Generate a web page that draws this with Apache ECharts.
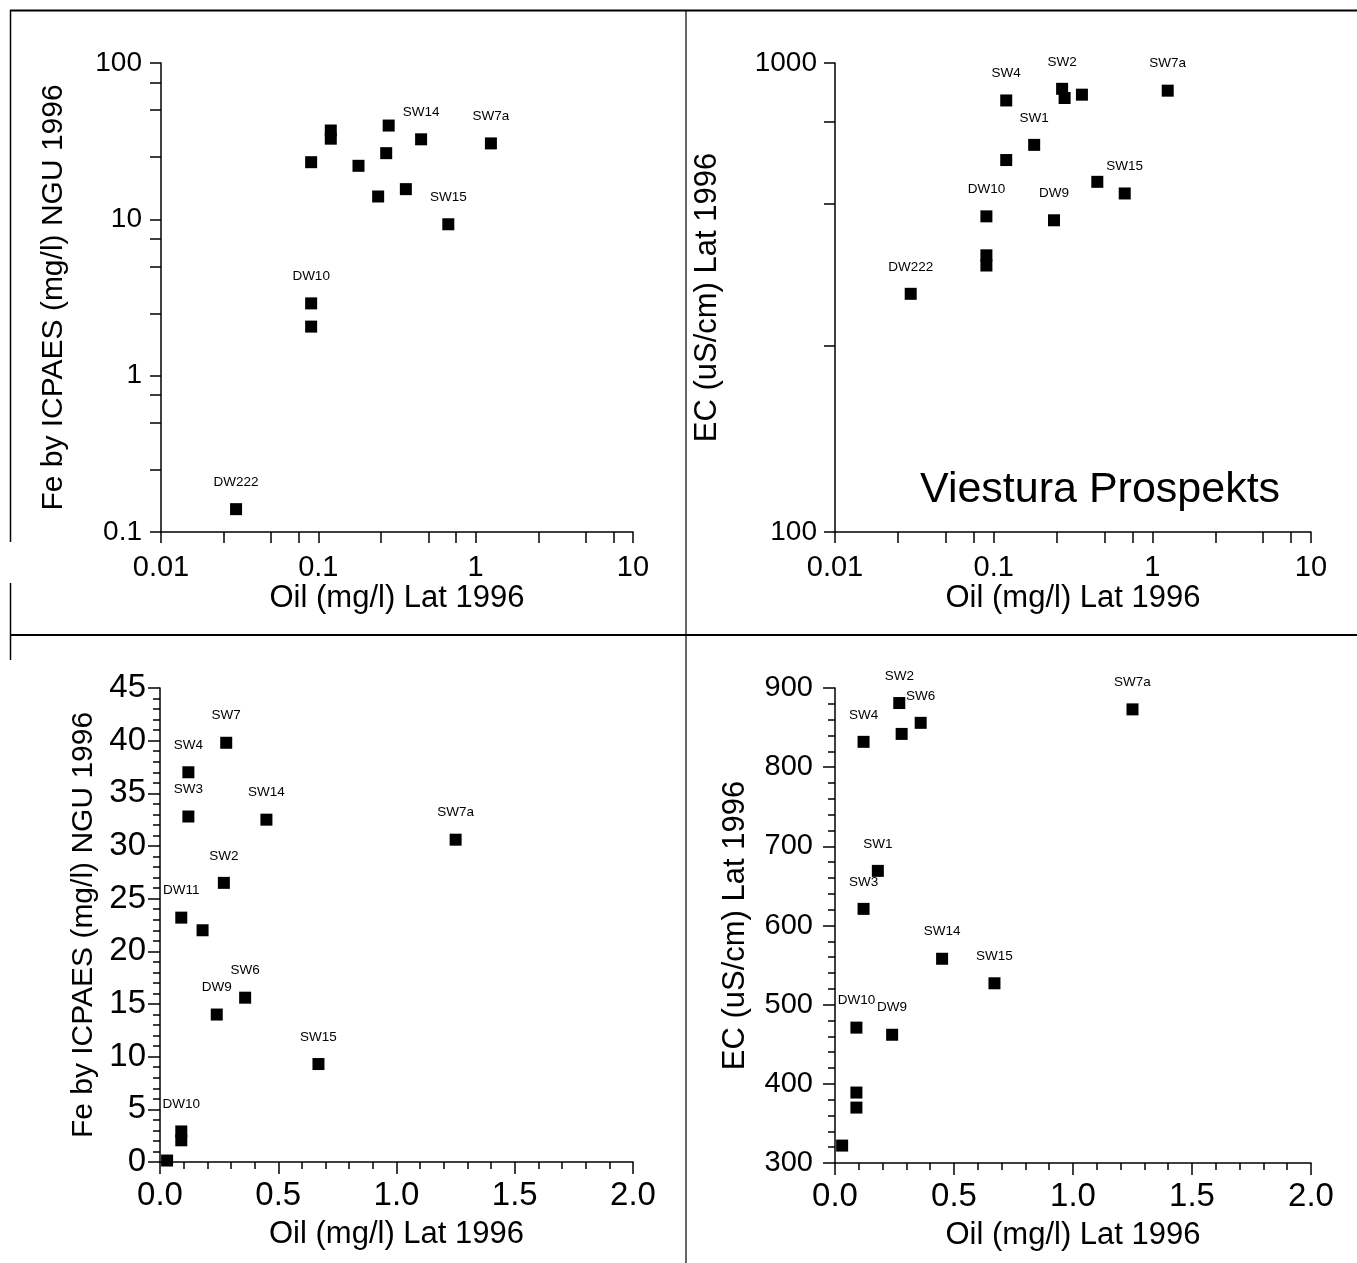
<!DOCTYPE html>
<html><head><meta charset="utf-8">
<script src="https://cdn.jsdelivr.net/npm/echarts@6/dist/echarts.min.js"></script>
<style>html,body{margin:0;padding:0;background:#fff}#c{width:1357px;height:1263px}</style>
</head><body><div id="c"></div>
<script>
// ---- data ----
const samples = ['DW222','DW10','DW10b','DW11','SW4','SW3','SW1','DW9','SW2','SW7','SW6','SW14','SW15','SW7a'];
const oil     = [0.03, 0.09, 0.09, 0.09, 0.12, 0.12, 0.18, 0.24, 0.27, 0.28, 0.36, 0.45, 0.67, 1.25];
const fe      = [0.14, 2.9, 2.06, 23.2, 37.0, 32.8, 22.0, 14.0, 26.5, 39.8, 15.6, 32.5, 9.3, 30.6];
const ec      = [322, 471, 370, 389, 832, 621, 669, 462, 881, 842, 856, 558, 527, 873];

const feLogLabels = ['DW222','DW10','SW14','SW15','SW7a'];
const ecLogLabels = ['DW222','DW10','DW9','SW1','SW4','SW2','SW15','SW7a'];
const feLinLabels = ['DW10','DW11','SW4','SW3','DW9','SW2','SW7','SW6','SW14','SW15','SW7a'];
const ecLinLabels = ['DW10','DW9','SW4','SW3','SW1','SW2','SW6','SW14','SW15','SW7a'];

const oilLogTicks = [0.01,0.025,0.05,0.075,0.1,0.25,0.5,0.75,1,2.5,5,7.5,10];
const feLogTicks  = [0.1,0.25,0.5,0.75,1,2.5,5,7.5,10,25,50,75,100];
const ecLogTicks  = [100,250,500,750,1000];

const xTitle = 'Oil (mg/l) Lat 1996';
const feTitle = 'Fe by ICPAES (mg/l) NGU 1996';
const ecTitle = 'EC (uS/cm) Lat 1996';
const watermark = 'Viestura Prospekts';

// ---- styling ----
const FONT = "'Liberation Sans', Arial, sans-serif";
const line = {color:'#000', width:1.5};

function baseAxis(o, lab, nameSize){
  return Object.assign({
    axisLine:{show:true, onZero:false, lineStyle:line},
    axisTick:{show:true, inside:false, length:11, lineStyle:line},
    axisLabel:Object.assign({color:'#000', fontFamily:FONT}, lab),
    splitLine:{show:false},
    nameLocation:'middle',
    nameTextStyle:{color:'#000', fontFamily:FONT, fontSize:nameSize, verticalAlign:'middle'}
  }, o);
}
const plain = v => String(+(+v).toPrecision(6));
function logAxis(min, max, ticks, o, lab, nameSize){
  const a = baseAxis(Object.assign({type:'log', logBase:10, min:min, max:max}, o), Object.assign({formatter:plain}, lab), nameSize);
  a.axisTick.customValues = ticks;
  return a;
}
function linAxis(min, max, interval, o, lab, nameSize){
  const a = baseAxis(Object.assign({type:'value', min:min, max:max, interval:interval}, o), lab, nameSize);
  a.minorTick = {show:true, splitNumber:5, length:7, lineStyle:line};
  a.axisTick.length = 12;
  return a;
}
function series(xi, yi, ys, labels){
  return {
    type:'scatter', xAxisIndex:xi, yAxisIndex:yi, symbol:'rect', symbolSize:12,
    itemStyle:{color:'#000', opacity:1}, silent:true,
    label:{show:false, position:'top', distance:14, formatter:'{b}', color:'#000', fontFamily:FONT, fontSize:13.5},
    data: samples.map((s,i)=>({name:s.replace('b',''), value:[oil[i], ys[i]], label:{show: labels.indexOf(s) >= 0}}))
  };
}
const oneDec = v => v.toFixed(1);

const option = {
  animation:false,
  backgroundColor:'#fff',
  grid:[
    {left:161, top:63, width:472, height:469},
    {left:835, top:63, width:476, height:469},
    {left:160, top:688, width:473, height:474},
    {left:835, top:688, width:476, height:475}
  ],
  xAxis:[
    logAxis(0.01, 10, oilLogTicks, {gridIndex:0, name:xTitle, nameGap:64}, {fontSize:29, margin:36, verticalAlign:'middle'}, 31),
    logAxis(0.01, 10, oilLogTicks, {gridIndex:1, name:xTitle, nameGap:64}, {fontSize:29, margin:36, verticalAlign:'middle'}, 31),
    linAxis(0, 2, 0.5, {gridIndex:2, name:xTitle, nameGap:72}, {fontSize:33, margin:34, verticalAlign:'middle', formatter:oneDec}, 31),
    linAxis(0, 2, 0.5, {gridIndex:3, name:xTitle, nameGap:72}, {fontSize:33, margin:34, verticalAlign:'middle', formatter:oneDec}, 31)
  ],
  yAxis:[
    logAxis(0.1, 100, feLogTicks, {gridIndex:0, name:feTitle, nameGap:107}, {fontSize:28, margin:19}, 30),
    logAxis(100, 1000, ecLogTicks, {gridIndex:1, name:ecTitle, nameGap:128}, {fontSize:28, margin:18}, 31),
    linAxis(0, 45, 5, {gridIndex:2, name:feTitle, nameGap:76}, {fontSize:33, margin:14}, 30),
    linAxis(300, 900, 100, {gridIndex:3, name:ecTitle, nameGap:100}, {fontSize:29, margin:22}, 31)
  ],
  series:[
    series(0,0,fe,feLogLabels),
    series(1,1,ec,ecLogLabels),
    series(2,2,fe,feLinLabels),
    series(3,3,ec,ecLinLabels)
  ],
  graphic:[
    {type:'line', shape:{x1:10, y1:10.5, x2:1357, y2:10.5}, style:{stroke:'#000', lineWidth:2}},
    {type:'line', shape:{x1:10.5, y1:10, x2:10.5, y2:542}, style:{stroke:'#000', lineWidth:1.5}},
    {type:'line', shape:{x1:10.5, y1:583, x2:10.5, y2:660}, style:{stroke:'#000', lineWidth:1.5}},
    {type:'line', shape:{x1:686, y1:10, x2:686, y2:1263}, style:{stroke:'#000', lineWidth:1.2}},
    {type:'line', shape:{x1:10, y1:635, x2:1357, y2:635}, style:{stroke:'#000', lineWidth:2}},
    {type:'text', left:920, top:469, style:{text:watermark, fill:'#000', font:"43px 'Liberation Sans', Arial, sans-serif"}}
  ]
};

const chart = echarts.init(document.getElementById('c'), null, {renderer:'canvas'});
chart.setOption(option);
</script>
</body></html>
